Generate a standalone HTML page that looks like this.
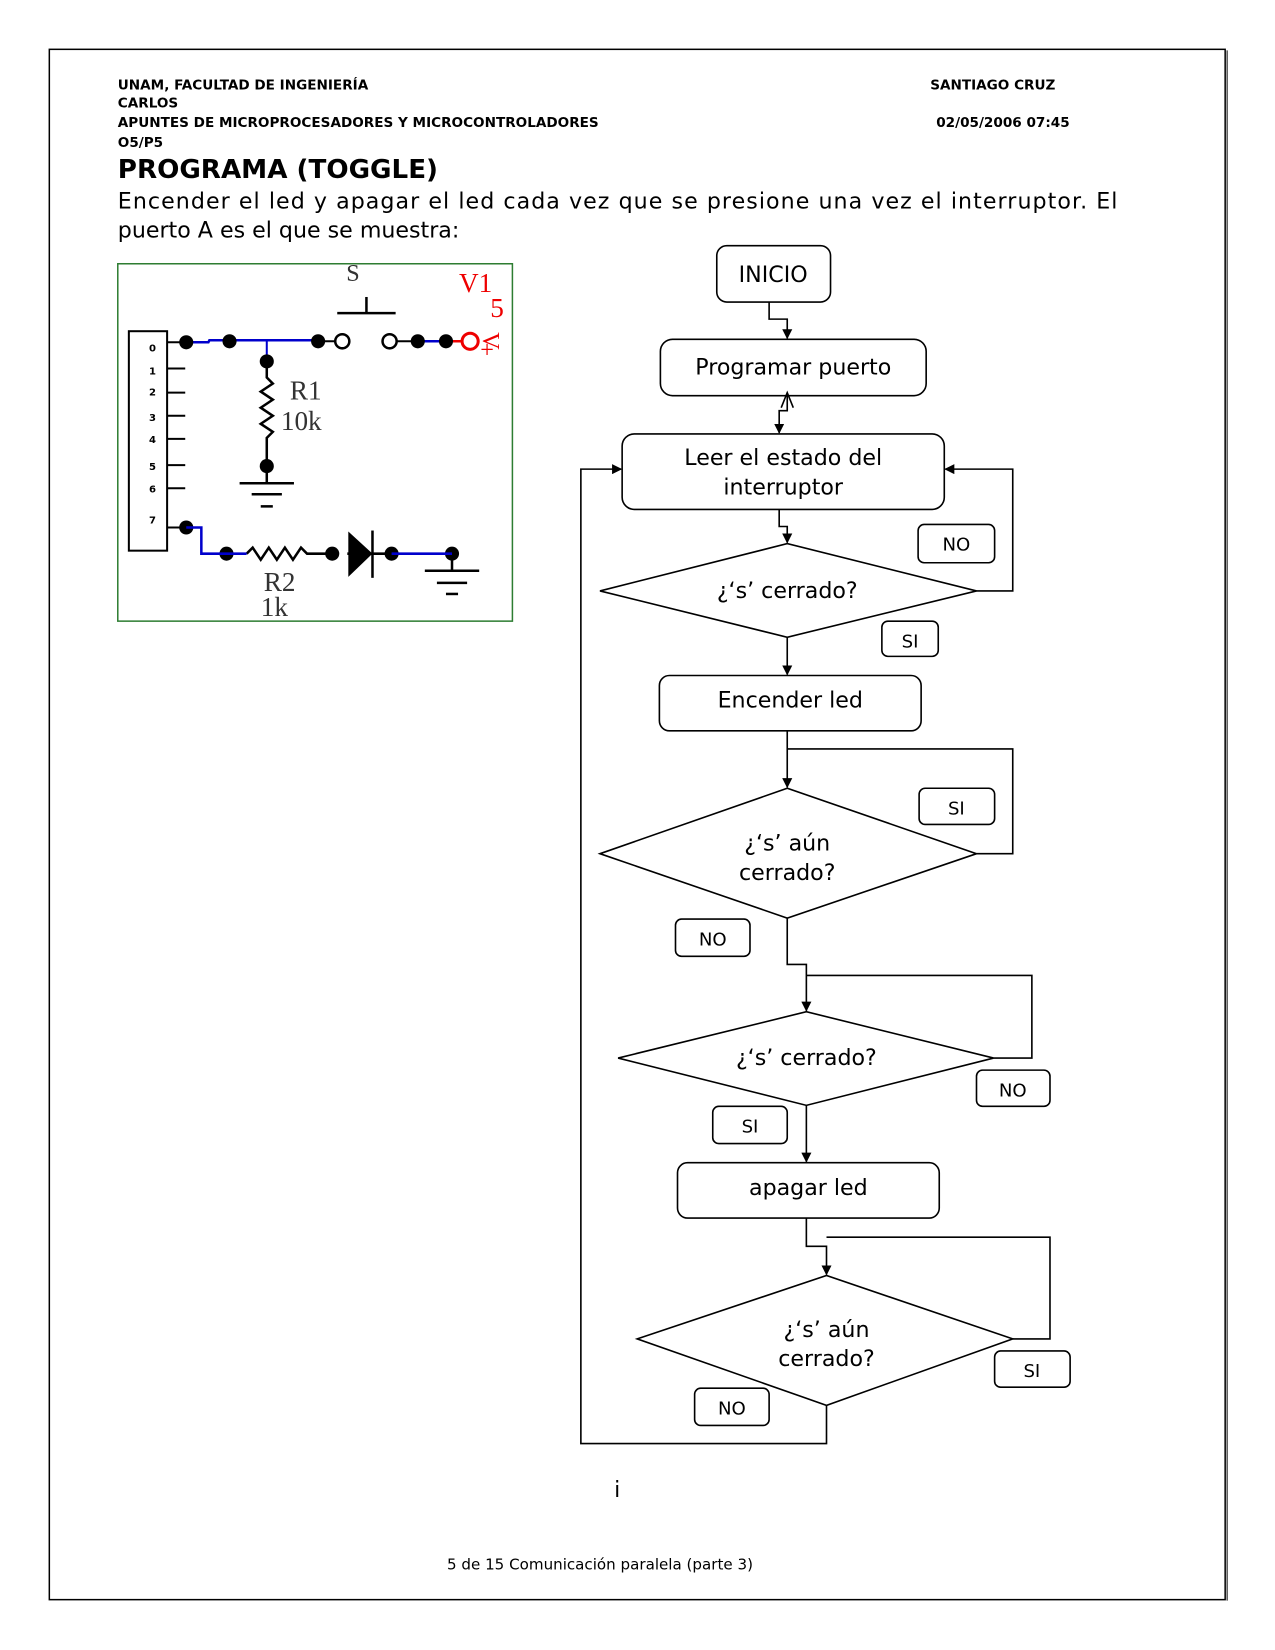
<!DOCTYPE html>
<html><head><meta charset="utf-8"><style>
body{margin:0;background:#fff;}
svg{display:block}
text{font-family:"DejaVu Sans","Liberation Sans",sans-serif;fill:#000}
.h{font-size:13.5px;font-weight:bold}
.f{font-size:22px}
.sr{font-family:"Liberation Serif","DejaVu Serif",serif;font-size:27px;fill:#333}
</style></head><body>
<svg width="1275" height="1650" viewBox="0 0 1275 1650" xmlns="http://www.w3.org/2000/svg">
<defs><marker id="a" markerWidth="10" markerHeight="10" refX="9" refY="5" orient="auto" markerUnits="userSpaceOnUse"><path d="M0,0 L10,5 L0,10 z" fill="#000"/></marker></defs>
<g transform="scale(1.0067)">
<rect x="49" y="49" width="1168" height="1540" fill="none" stroke="#000" stroke-width="1.5"/>
<line x1="1219" y1="50" x2="1219" y2="1590" stroke="#555" stroke-width="1.5"/>
<text class="h" x="117" y="89">UNAM, FACULTAD DE INGENIERÍA</text>
<text class="h" x="117" y="107">CARLOS</text>
<text class="h" x="117" y="126">APUNTES DE MICROPROCESADORES Y MICROCONTROLADORES</text>
<text class="h" x="117" y="146">O5/P5</text>
<text class="h" x="924" y="89">SANTIAGO CRUZ</text>
<text class="h" x="930" y="126">02/05/2006 07:45</text>
<text x="117" y="177" style="font-size:26px;font-weight:bold">PROGRAMA (TOGGLE)</text>
<text x="117" y="207" style="font-size:22px" textLength="993" lengthAdjust="spacing">Encender el led y apagar el led cada vez que se presione una vez el interruptor. El</text>
<text x="117" y="236" style="font-size:22px">puerto A es el que se muestra:</text>

<rect x="117" y="262" width="392" height="355" fill="none" stroke="#2e7d32" stroke-width="1.5"/>
<rect x="128" y="329" width="38" height="218" fill="#fff" stroke="#000" stroke-width="2"/>
<g style="font-size:10px;font-weight:bold"><text x="148" y="349">0</text><text x="148" y="372">1</text><text x="148" y="393">2</text><text x="148" y="418">3</text><text x="148" y="440">4</text><text x="148" y="467">5</text><text x="148" y="489">6</text><text x="148" y="520">7</text></g>
<g stroke="#000" stroke-width="2"><line x1="166" y1="366" x2="184" y2="366"/><line x1="166" y1="390" x2="184" y2="390"/><line x1="166" y1="413" x2="184" y2="413"/><line x1="166" y1="436" x2="184" y2="436"/><line x1="166" y1="462" x2="184" y2="462"/><line x1="166" y1="485" x2="184" y2="485"/><line x1="166" y1="340" x2="185" y2="340"/><line x1="166" y1="524" x2="185" y2="524"/></g>
<polyline points="185,340 207,340 208,338 315,338" fill="none" stroke="#00c" stroke-width="2.5"/>
<line x1="265" y1="338" x2="265" y2="359" stroke="#00c" stroke-width="2"/>
<line x1="315" y1="339" x2="340" y2="339" stroke="#000" stroke-width="2"/>
<line x1="387" y1="339" x2="443" y2="339" stroke="#000" stroke-width="2"/>
<line x1="415" y1="339" x2="443" y2="339" stroke="#00c" stroke-width="2.5"/>
<line x1="443" y1="339" x2="467" y2="339" stroke="#e00" stroke-width="2.5"/>
<g fill="#000"><circle cx="185" cy="340" r="7"/><circle cx="228" cy="339" r="7"/><circle cx="316" cy="339" r="7"/><circle cx="415" cy="339" r="7"/><circle cx="443" cy="339" r="7"/><circle cx="265" cy="359" r="7"/><circle cx="265" cy="463" r="7"/><circle cx="185" cy="524" r="7"/><circle cx="225" cy="550" r="7"/><circle cx="330" cy="550" r="7"/><circle cx="389" cy="550" r="7"/><circle cx="449" cy="550" r="7"/></g>
<circle cx="340" cy="339" r="7" fill="#fff" stroke="#000" stroke-width="2.5"/>
<circle cx="387" cy="339" r="7" fill="#fff" stroke="#000" stroke-width="2.5"/>
<circle cx="467" cy="339" r="8" fill="#fff" stroke="#e00" stroke-width="3"/>
<g stroke="#000" stroke-width="2.5" fill="none">
<line x1="335" y1="311" x2="393" y2="311"/><line x1="364" y1="295" x2="364" y2="311"/>
<polyline points="265,359 265,375 271,381 259,389 271,397 259,405 271,413 259,421 271,429 265,435 265,463"/>
<line x1="265" y1="463" x2="265" y2="480"/>
<line x1="238" y1="480" x2="292" y2="480"/><line x1="250" y1="491" x2="280" y2="491"/><line x1="259" y1="503" x2="271" y2="503"/>
<polyline points="245,550 251,544 259,556 267,544 275,556 283,544 291,556 299,544 305,550 330,550"/>
<line x1="389" y1="550" x2="345" y2="550"/>
<line x1="370" y1="527" x2="370" y2="574"/>
<line x1="449" y1="550" x2="449" y2="567"/>
<line x1="422" y1="567" x2="476" y2="567"/><line x1="434" y1="579" x2="464" y2="579"/><line x1="443" y1="590" x2="455" y2="590"/>
</g>
<polyline points="185,524 200,524 200,550 245,550" fill="none" stroke="#00c" stroke-width="2.5"/>
<line x1="389" y1="550" x2="449" y2="550" stroke="#00c" stroke-width="2.5"/>
<path d="M346,528 L370,550 L346,573 z" fill="#000"/>
<text class="sr" x="344" y="279" style="font-size:24px">S</text>
<text class="sr" x="456" y="290" style="fill:#e00">V1</text>
<text class="sr" x="487" y="315" style="fill:#e00">5</text>
<text class="sr" x="480" y="330" transform="rotate(90 480 330)" style="fill:#e00;font-size:24px">V</text>
<text class="sr" x="477" y="355" style="fill:#e00;font-size:24px">+</text>
<text class="sr" x="288" y="397">R1</text>
<text class="sr" x="279" y="427">10k</text>
<text class="sr" x="262" y="587">R2</text>
<text class="sr" x="259" y="612">1k</text>

<g fill="#fff" stroke="#000" stroke-width="1.6">
<rect x="712" y="244" width="113" height="56" rx="10"/>
<rect x="656" y="337" width="264" height="56" rx="12"/>
<rect x="618" y="431" width="320" height="75" rx="12"/>
<polygon points="596,587 782,540 970,587 782,633"/>
<rect x="655" y="671" width="260" height="55" rx="10"/>
<polygon points="596,848 782,783 970,848 782,912"/>
<polygon points="614,1051 801,1005 987,1051 801,1098"/>
<rect x="673" y="1155" width="260" height="55" rx="10"/>
<polygon points="633,1330 821,1267 1006,1330 821,1396"/>
<rect x="912" y="521" width="76" height="38" rx="6"/>
<rect x="876" y="617" width="56" height="35" rx="6"/>
<rect x="913" y="783" width="75" height="36" rx="6"/>
<rect x="671" y="913" width="74" height="37" rx="6"/>
<rect x="970" y="1063" width="73" height="36" rx="6"/>
<rect x="708" y="1099" width="74" height="37" rx="6"/>
<rect x="988" y="1342" width="75" height="36" rx="6"/>
<rect x="690" y="1379" width="74" height="37" rx="6"/>
</g>
<g fill="none" stroke="#000" stroke-width="1.6" marker-end="url(#a)">
<polyline points="764,300 764,317 782,317 782,336"/>
<polyline points="782,393 782,408 774,408 774,430"/>
<polyline points="774,506 774,523 782,523 782,539"/>
<polyline points="782,633 782,670"/>
<polyline points="782,726 782,782"/>
<polyline points="970,587 1006,587 1006,466 939,466"/>
<polyline points="782,912 782,958 801,958 801,1004"/>
<polyline points="801,1098 801,1154"/>
<polyline points="801,1210 801,1238 821,1238 821,1266"/>
<polyline points="821,1396 821,1434 577,1434 577,466 617,466"/>
</g>
<g fill="none" stroke="#000" stroke-width="1.6">
<polyline points="970,848 1006,848 1006,744 782,744"/>
<polyline points="987,1051 1025,1051 1025,969 801,969"/>
<polyline points="1006,1330 1043,1330 1043,1229 821,1229"/>
<polyline points="776,405 782,390 788,405"/>
</g>
<g class="f" text-anchor="middle">
<text x="768" y="280">INICIO</text>
<text x="788" y="372">Programar puerto</text>
<text x="778" y="462">Leer el estado del</text>
<text x="778" y="491">interruptor</text>
<text x="782" y="594">¿‘s’ cerrado?</text>
<text x="785" y="703">Encender led</text>
<text x="782" y="845">¿‘s’ aún</text>
<text x="782" y="874">cerrado?</text>
<text x="801" y="1058">¿‘s’ cerrado?</text>
<text x="803" y="1187">apagar led</text>
<text x="821" y="1328">¿‘s’ aún</text>
<text x="821" y="1357">cerrado?</text>
</g>
<g text-anchor="middle" style="font-size:18px">
<text x="950" y="547">NO</text><text x="904" y="643">SI</text><text x="950" y="809">SI</text><text x="708" y="939">NO</text>
<text x="1006" y="1089">NO</text><text x="745" y="1125">SI</text><text x="1025" y="1368">SI</text><text x="727" y="1405">NO</text>
</g>
<text x="610" y="1487" style="font-size:22px">i</text>
<text x="596" y="1559" text-anchor="middle" style="font-size:15px">5 de 15 Comunicación paralela (parte 3)</text>
</g>
</svg>
</body></html>
